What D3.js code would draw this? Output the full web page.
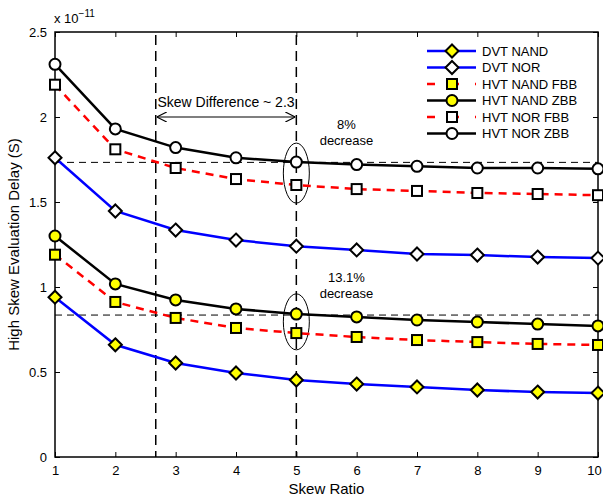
<!DOCTYPE html>
<meta charset="utf-8">
<style>
  body { margin: 0; background: #fff; font-family: "Liberation Sans", Arial, sans-serif; }
  svg { display: block; }
  .tick text { font-size: 13px; fill: #000; }
  .lbl { font-size: 15px; fill: #000; }
</style>
<body>
<div id="chart"></div>
<script src="https://cdn.jsdelivr.net/npm/d3@7"></script>
<script>

var width = 603,
    height = 500;
var margin = {top: 32, right: 5, bottom: 43, left: 55};

// skew ratio
var skew = [1, 2, 3, 4, 5, 6, 7, 8, 9, 10];

// delay values, units of 1e-11 s
var dvtNand  = [0.94, 0.66, 0.553, 0.494, 0.453, 0.429, 0.412, 0.394, 0.382, 0.376];
var dvtNor   = [1.76, 1.447, 1.335, 1.276, 1.24, 1.218, 1.194, 1.188, 1.176, 1.17];
var nandFbb  = [1.19, 0.912, 0.818, 0.759, 0.729, 0.706, 0.688, 0.676, 0.665, 0.659];
var nandZbb  = [1.30, 1.018, 0.924, 0.871, 0.841, 0.824, 0.806, 0.794, 0.782, 0.771];
var norFbb   = [2.19, 1.81, 1.70, 1.635, 1.60, 1.576, 1.565, 1.553, 1.547, 1.54];
var norZbb   = [2.31, 1.93, 1.82, 1.76, 1.735, 1.72, 1.71, 1.70, 1.70, 1.695];

var yTicks = [0, 0.5, 1, 1.5, 2, 2.5];

var series = [
  {name: "DVT NAND", values: dvtNand, color: "#0000ff", dash: null, marker: "diamond", fill: "#ffff00"},
  {name: "DVT NOR", values: dvtNor, color: "#0000ff", dash: null, marker: "diamond", fill: "#fff"},
  {name: "HVT NAND FBB", values: nandFbb, color: "#ff0000", dash: "8,6", marker: "square", fill: "#ffff00"},
  {name: "HVT NAND ZBB", values: nandZbb, color: "#000", dash: null, marker: "circle", fill: "#ffff00"},
  {name: "HVT NOR FBB", values: norFbb, color: "#ff0000", dash: "8,6", marker: "square", fill: "#fff"},
  {name: "HVT NOR ZBB", values: norZbb, color: "#000", dash: null, marker: "circle", fill: "#fff"}
];

var w = width - margin.left - margin.right,
    h = height - margin.top - margin.bottom;

var x = d3.scaleLinear().domain([1, 10]).range([0, w]);
var y = d3.scaleLinear().domain([0, 2.5]).range([h, 0]);

var svg = d3.select("#chart").append("svg")
  .attr("width", width)
  .attr("height", height);

var g = svg.append("g")
  .attr("transform", "translate(" + margin.left + "," + margin.top + ")");

// axes, ticks inward on all four sides
function styleAxis(sel) {
  sel.select(".domain").remove();
  sel.selectAll(".tick line").attr("stroke", "#000");
}
g.append("g").attr("transform", "translate(0," + h + ")")
  .call(d3.axisBottom(x).ticks(10).tickSizeInner(-5).tickSizeOuter(0).tickPadding(9))
  .call(styleAxis)
  .selectAll(".tick text").filter(function(d) { return d === 10; }).attr("dx", -4);
g.append("g")
  .call(d3.axisTop(x).ticks(10).tickSizeInner(-5).tickSizeOuter(0).tickFormat(""))
  .call(styleAxis);
g.append("g")
  .call(d3.axisLeft(y).tickValues(yTicks).tickSizeInner(-5).tickSizeOuter(0).tickPadding(8).tickFormat(d3.format("")))
  .call(styleAxis);
g.append("g").attr("transform", "translate(" + w + ",0)")
  .call(d3.axisRight(y).tickValues(yTicks).tickSizeInner(-5).tickSizeOuter(0).tickFormat(""))
  .call(styleAxis);

g.append("rect")
  .attr("width", w).attr("height", h)
  .attr("fill", "none").attr("stroke", "#000").attr("stroke-width", 1.5);

// annotations
var dashed = "7,5";
g.append("line")
  .attr("x1", 0).attr("x2", w).attr("y1", y(1.733)).attr("y2", y(1.733))
  .attr("stroke", "#000").attr("stroke-dasharray", dashed);
g.append("line")
  .attr("x1", 0).attr("x2", w).attr("y1", y(0.835)).attr("y2", y(0.835))
  .attr("stroke", "#000").attr("stroke-dasharray", dashed);
[2.67, 5].forEach(function(v) {
  g.append("line")
    .attr("x1", x(v)).attr("x2", x(v)).attr("y1", 3).attr("y2", h)
    .attr("stroke", "#000").attr("stroke-width", 1.5).attr("stroke-dasharray", "10,6");
});

var defs = svg.append("defs");
defs.append("marker").attr("id", "arr")
  .attr("viewBox", "0 0 10 10").attr("refX", 10).attr("refY", 5)
  .attr("markerWidth", 10).attr("markerHeight", 10).attr("markerUnits", "userSpaceOnUse")
  .attr("orient", "auto-start-reverse")
  .append("path").attr("d", "M0,0 L10,5 L0,10").attr("fill", "none").attr("stroke", "#000").attr("stroke-width", 1.2);

g.append("line")
  .attr("x1", x(2.67) + 1).attr("x2", x(5) - 1).attr("y1", y(2.0)).attr("y2", y(2.0))
  .attr("stroke", "#000").attr("stroke-width", 1.2)
  .attr("marker-start", "url(#arr)").attr("marker-end", "url(#arr)");
g.append("text").attr("class", "lbl")
  .attr("x", (x(2.67) + x(5)) / 2).attr("y", y(2.06))
  .attr("text-anchor", "middle").style("font-size", "14px")
  .text("Skew Difference ~ 2.3");

g.append("ellipse").attr("cx", x(5)).attr("cy", y(1.67)).attr("rx", 13).attr("ry", 30)
  .attr("fill", "none").attr("stroke", "#000");
g.append("ellipse").attr("cx", x(5)).attr("cy", y(0.795)).attr("rx", 13).attr("ry", 28)
  .attr("fill", "none").attr("stroke", "#000");

function note(lines, vx, vy) {
  lines.forEach(function(t, i) {
    g.append("text").attr("x", x(vx)).attr("y", y(vy) + i * 16)
      .attr("text-anchor", "middle").style("font-size", "13px").text(t);
  });
}
note(["8%", "decrease"], 5.83, 1.93);
note(["13.1%", "decrease"], 5.83, 1.03);

// markers
function drawMarker(sel, type, fill, cx, cy) {
  if (type === "circle") {
    sel.append("circle").attr("cx", cx).attr("cy", cy).attr("r", 5.5)
      .attr("fill", fill).attr("stroke", "#000").attr("stroke-width", 2);
  } else if (type === "square") {
    sel.append("rect").attr("x", cx - 5).attr("y", cy - 5).attr("width", 10).attr("height", 10)
      .attr("fill", fill).attr("stroke", "#000").attr("stroke-width", 2);
  } else {
    var s = 6.5;
    sel.append("path")
      .attr("d", "M" + cx + "," + (cy - s) + "L" + (cx + s) + "," + cy + "L" + cx + "," + (cy + s) + "L" + (cx - s) + "," + cy + "Z")
      .attr("fill", fill).attr("stroke", "#000").attr("stroke-width", 2);
  }
}

var line = d3.line()
  .x(function(d, i) { return x(skew[i]); })
  .y(function(d) { return y(d); });

series.forEach(function(s) {
  g.append("path")
    .datum(s.values)
    .attr("d", line)
    .attr("fill", "none")
    .attr("stroke", s.color)
    .attr("stroke-width", 2.5)
    .attr("stroke-dasharray", s.dash);
});
series.forEach(function(s) {
  var mg = g.append("g");
  s.values.forEach(function(v, i) {
    drawMarker(mg, s.marker, s.fill, x(skew[i]), y(v));
  });
});

// legend
var lg = svg.append("g").attr("transform", "translate(427,51)");
series.forEach(function(s, i) {
  var row = lg.append("g").attr("transform", "translate(0," + (i * 16.5) + ")");
  row.append("line").attr("x1", 0).attr("x2", 49).attr("y1", 0).attr("y2", 0)
    .attr("stroke", s.color).attr("stroke-width", 2.5)
    .attr("stroke-dasharray", s.dash ? "8,16" : null);
  drawMarker(row, s.marker, s.fill, 25, 0);
  row.append("text").attr("x", 55).attr("y", 4.5).style("font-size", "13px").text(s.name);
});

// axis titles
svg.append("text").attr("class", "lbl")
  .attr("x", margin.left + w / 2).attr("y", 494)
  .attr("text-anchor", "middle").text("Skew Ratio");
svg.append("text").attr("class", "lbl")
  .attr("transform", "translate(19," + (margin.top + h / 2) + ") rotate(-90)")
  .attr("text-anchor", "middle").text("High Skew Evaluation Delay (S)");
var ex = svg.append("text").attr("x", 54).attr("y", 23).style("font-size", "13px");
ex.append("tspan").text("x 10");
ex.append("tspan").attr("dy", -6).style("font-size", "10px").text("\u221211");

</script>
</body>
